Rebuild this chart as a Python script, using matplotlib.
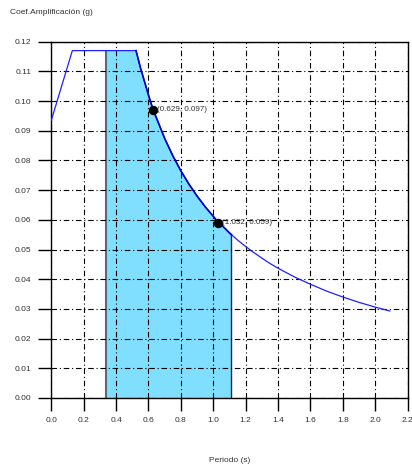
import numpy as np
import matplotlib
matplotlib.use("Agg")
from matplotlib import pyplot as plt

plt.rcParams['font.family'] = ['Liberation Sans', 'DejaVu Sans']

# espectro
periodo = [0.0, 0.13, 0.523, 0.55, 0.6, 0.629, 0.65, 0.7, 0.75, 0.8, 0.85, 0.9, 0.95,
           1.0, 1.032, 1.05, 1.1, 1.15, 1.2, 1.25, 1.3, 1.35, 1.4, 1.5, 1.6, 1.7, 1.8,
           1.9, 2.0, 2.09]
sa = [0.0935, 0.117, 0.117, 0.1113, 0.102, 0.097, 0.0942, 0.0874, 0.0816, 0.0765, 0.072,
      0.068, 0.0644, 0.0612, 0.059, 0.0583, 0.0556, 0.0532, 0.051, 0.049, 0.0471, 0.0453,
      0.0437, 0.0408, 0.0383, 0.036, 0.034, 0.0322, 0.0306, 0.0293]

# zona sombreada
zona_t = [0.34, 0.523, 0.55, 0.6, 0.629, 0.65, 0.7, 0.75, 0.8, 0.85, 0.9, 0.95, 1.0,
          1.032, 1.05, 1.1, 1.11]
zona_sa = [0.117, 0.117, 0.1113, 0.102, 0.097, 0.0942, 0.0874, 0.0816, 0.0765, 0.072,
           0.068, 0.0644, 0.0612, 0.059, 0.0583, 0.0556, 0.0551]

# puntos marcados
puntos_t = [0.629, 1.032]
puntos_sa = [0.097, 0.059]
etiquetas = ['(0.629, 0.097)', '(1.032, 0.059)']

xticks = [0.0, 0.2, 0.4, 0.6, 0.8, 1.0, 1.2, 1.4, 1.6, 1.8, 2.0, 2.2]
yticks = [0.00, 0.01, 0.02, 0.03, 0.04, 0.05, 0.06, 0.07, 0.08, 0.09, 0.10, 0.11, 0.12]

fig = plt.figure(figsize=(4.12, 4.68), dpi=100)
ax = fig.add_axes([0.1245, 0.1496, 0.865, 0.7613])

ax.fill_between(zona_t, zona_sa, 0, color='#80dfff', linewidth=0, zorder=1)
ax.plot([zona_t[0], zona_t[0]], [0, zona_sa[0]], color='#5a6a78', lw=1.5, zorder=2)
ax.plot([zona_t[-1], zona_t[-1]], [0, zona_sa[-1]], color='#1a2a60', lw=1.0, zorder=2)

ax.plot(periodo, sa, color='#2020ff', lw=0.9, zorder=3)
ax.plot(zona_t[1:], zona_sa[1:], color='#0000c8', lw=1.2, zorder=3)

ax.plot(puntos_t, puntos_sa, 'o', color='black', ms=5.8, zorder=4)
for t, s, e in zip(puntos_t, puntos_sa, etiquetas):
    ax.annotate(e, (t, s), xytext=(2.5, 0), textcoords='offset points',
                va='center', ha='left', fontsize=5.8, color='#333333', zorder=5)

ax.set_xlim(0, 2.2)
ax.set_ylim(0, 0.12)
ax.set_xticks(xticks)
ax.set_yticks(yticks)
ax.set_xticklabels(['%.1f' % v for v in xticks])
ax.set_yticklabels(['%.2f' % v for v in yticks])
ax.tick_params(direction='out', length=9.4, width=1.0, color='black',
               labelsize=6, labelcolor='#333333')
ax.tick_params(axis='y', pad=5)
ax.tick_params(axis='x', pad=4)
ax.grid(True, color='black', lw=0.8, linestyle=(0, (5, 2.5, 1, 2.5)), zorder=2.5)
ax.set_axisbelow(False)
for sp in ax.spines.values():
    sp.set_linewidth(1.0)

fig.text(10 / 412, 1 - 13 / 468, 'Coef.Amplificación (g)', fontsize=6, color='#333333',
         ha='left', va='center')
fig.text(209 / 412, 1 - 460 / 468, 'Periodo (s)', fontsize=6, color='#333333',
         ha='left', va='center')

plt.savefig('out.png', dpi=100)
